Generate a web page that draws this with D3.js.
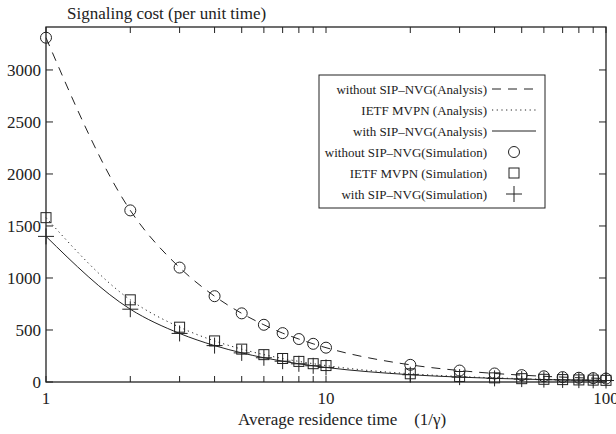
<!DOCTYPE html>
<html>
<head>
<meta charset="utf-8">
<script src="https://cdn.jsdelivr.net/npm/d3@7"></script>
<style>
  body { margin: 0; background: #fff; }
  svg text { font-family: "Liberation Serif", "Times New Roman", serif; fill: #222; }
</style>
</head>
<body>
<div id="chart"></div>
<script>
// Data
var times = [1, 2, 3, 4, 5, 6, 7, 8, 9, 10, 20, 30, 40, 50, 60, 70, 80, 90, 100];
var withoutNVG = [3310, 1650, 1100, 825, 660, 550, 470, 413, 367, 330, 165, 110, 82, 66, 55, 47, 41, 37, 33];
var ietfMVPN   = [1580, 790, 527, 395, 316, 263, 226, 198, 176, 158, 79, 53, 40, 32, 26, 23, 20, 18, 16];
var withNVG    = [1400, 700, 467, 350, 280, 233, 200, 175, 156, 140, 70, 47, 35, 28, 23, 20, 18, 16, 14];
var yTicks = [0, 500, 1000, 1500, 2000, 2500, 3000];
var xLabels = [1, 10, 100];
var legendNames = [
  'without SIP\u2013NVG(Analysis)',
  'IETF MVPN (Analysis)',
  'with SIP\u2013NVG(Analysis)',
  'without SIP\u2013NVG(Simulation)',
  'IETF MVPN (Simulation)',
  'with SIP\u2013NVG(Simulation)'
];

var width = 616, height = 434;
var margin = {top: 27, right: 10, bottom: 52, left: 46};
var ink = '#222';

var svg = d3.select('#chart').append('svg')
    .attr('width', width)
    .attr('height', height);

var x = d3.scaleLog().domain([1, 100]).range([margin.left, width - margin.right]);
var y = d3.scaleLinear().domain([0, 3413]).range([height - margin.bottom, margin.top]);

// minor ticks for log axis
var xTicks = [];
[1, 10].forEach(function(d) { for (var k = 1; k < 10; k++) xTicks.push(d * k); });
xTicks.push(100);

var x0 = margin.left, x1 = width - margin.right,
    y0 = height - margin.bottom, y1 = margin.top;

// frame
svg.append('rect')
    .attr('x', x0).attr('y', y1)
    .attr('width', x1 - x0).attr('height', y0 - y1)
    .attr('fill', 'none').attr('stroke', ink).attr('stroke-width', 1.3);

// x ticks (inward, bottom and top)
xTicks.forEach(function(t) {
  var px = x(t);
  svg.append('line').attr('x1', px).attr('x2', px).attr('y1', y0).attr('y2', y0 - 6)
    .attr('stroke', ink);
  svg.append('line').attr('x1', px).attr('x2', px).attr('y1', y1).attr('y2', y1 + 6)
    .attr('stroke', ink);
});
svg.selectAll('.xlab').data(xLabels).enter().append('text')
    .attr('x', function(d) { return x(d); })
    .attr('y', y0 + 22)
    .attr('text-anchor', 'middle')
    .attr('font-size', 17)
    .text(function(d) { return d; });

// y ticks (inward, left and right)
yTicks.forEach(function(t) {
  var py = y(t);
  svg.append('line').attr('x1', x0).attr('x2', x0 + 7).attr('y1', py).attr('y2', py)
    .attr('stroke', ink);
  svg.append('line').attr('x1', x1).attr('x2', x1 - 7).attr('y1', py).attr('y2', py)
    .attr('stroke', ink);
});
svg.selectAll('.ylab').data(yTicks).enter().append('text')
    .attr('x', x0 - 5)
    .attr('y', function(d) { return y(d) + 6; })
    .attr('text-anchor', 'end')
    .attr('font-size', 17)
    .text(function(d) { return d; });

// titles
svg.append('text')
    .attr('x', 67).attr('y', 19)
    .attr('font-size', 17)
    .text('Signaling cost (per unit time)');
svg.append('text')
    .attr('x', 238).attr('y', 425)
    .attr('font-size', 17)
    .attr('xml:space', 'preserve')
    .text('Average residence time    (1/\u03b3)');

// analysis curves
var line = d3.line()
    .x(function(d) { return x(d[0]); })
    .y(function(d) { return y(d[1]); })
    .curve(d3.curveMonotoneX);

var series = [
  {vals: withoutNVG, dash: '9,7'},
  {vals: ietfMVPN, dash: '1.2,3.5'},
  {vals: withNVG, dash: null}
];
series.forEach(function(s) {
  svg.append('path')
    .datum(times.map(function(t, i) { return [t, s.vals[i]]; }))
    .attr('d', line)
    .attr('fill', 'none')
    .attr('stroke', ink)
    .attr('stroke-width', 1)
    .attr('stroke-dasharray', s.dash);
});

// markers
function circleMark(g, cx, cy) {
  g.append('circle').attr('cx', cx).attr('cy', cy).attr('r', 5.5)
    .attr('fill', 'none').attr('stroke', ink).attr('stroke-width', 1);
}
function squareMark(g, cx, cy) {
  g.append('rect').attr('x', cx - 5).attr('y', cy - 5).attr('width', 10).attr('height', 10)
    .attr('fill', 'none').attr('stroke', ink).attr('stroke-width', 1);
}
function plusMark(g, cx, cy) {
  g.append('path').attr('d', 'M' + (cx - 8) + ',' + cy + 'H' + (cx + 8) +
      'M' + cx + ',' + (cy - 8) + 'V' + (cy + 8))
    .attr('stroke', ink).attr('stroke-width', 1);
}
var marks = svg.append('g');
times.forEach(function(t, i) {
  circleMark(marks, x(t), y(withoutNVG[i]));
  squareMark(marks, x(t), y(ietfMVPN[i]));
  plusMark(marks, x(t), y(withNVG[i]));
});

// legend
var lg = svg.append('g');
lg.append('rect')
    .attr('x', 319).attr('y', 75).attr('width', 226).attr('height', 133)
    .attr('fill', '#fff').attr('stroke', ink).attr('stroke-width', 1);
var rowY = [89, 110, 131, 152, 173, 194];
legendNames.forEach(function(name, i) {
  lg.append('text')
    .attr('x', 487).attr('y', rowY[i] + 4.5)
    .attr('text-anchor', 'end')
    .attr('font-size', 13)
    .text(name);
});
[ '9,7', '1.2,3.5', null ].forEach(function(dash, i) {
  lg.append('line')
    .attr('x1', 492).attr('x2', 536).attr('y1', rowY[i]).attr('y2', rowY[i])
    .attr('stroke', ink).attr('stroke-width', 1)
    .attr('stroke-dasharray', dash);
});
circleMark(lg, 514, rowY[3]);
squareMark(lg, 514, rowY[4]);
plusMark(lg, 514, rowY[5]);
</script>
</body>
</html>
